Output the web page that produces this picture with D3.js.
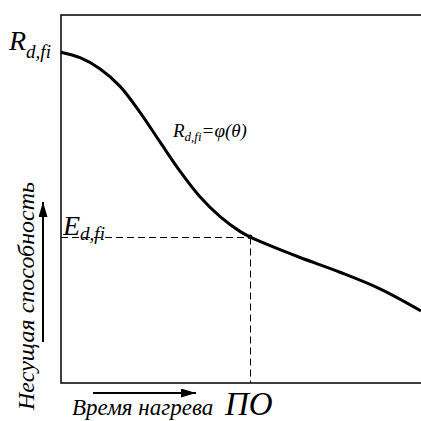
<!DOCTYPE html>
<html><head><meta charset="utf-8">
<script src="https://cdn.jsdelivr.net/npm/d3@7"></script>
</head><body style="margin:0">
<script>
// Heating time (relative units) and load-bearing capacity (relative units)
const timeValues = [0, 5.3, 10.8, 16.4, 21.9, 27.5, 33.1, 38.6, 44.2, 49.7, 52.5, 58.1, 66.4, 77.5, 88.6, 100];
const capacityValues = [89.9, 88.4, 85.4, 80.6, 73.6, 65.5, 57.5, 50.6, 45.2, 41.2, 39.7, 37.3, 34.1, 30.1, 25.6, 19.6];
const fireResistanceTime = 52.5;   // ПО
const designEffect = 39.7;         // E_d,fi
const yAxisLabel = "Несущая способность";
const xAxisLabel = "Время нагрева";
const poLabel = "ПО";

const FONT = "'Liberation Serif', 'Times New Roman', Tinos, 'DejaVu Serif', serif";
const svg = d3.select("body").append("svg").attr("width", 421).attr("height", 421);
const x = d3.scaleLinear().domain([0, 100]).range([61, 421]);
const y = d3.scaleLinear().domain([0, 100]).range([383, 15]);

function txt(px) {
  return svg.append("text").attr("font-family", "Liberation Serif")
    .style("font-family", FONT).style("font-style", "italic").attr("font-style", "italic")
    .attr("font-size", px);
}

// frame
svg.append("path").attr("d", `M${x(100)+2},${y(100)}H${x(0)}V${y(0)}H${x(100)+2}`)
  .attr("fill", "none").attr("stroke", "#000").attr("stroke-width", 1.5);

// dashed guides
const yE = Math.round(y(designEffect)) + 0.5, xP = Math.round(x(fireResistanceTime)) + 0.5;
svg.append("line").attr("x1", x(0)).attr("x2", xP).attr("y1", yE).attr("y2", yE)
  .attr("stroke", "#000").attr("stroke-width", 1).attr("stroke-dasharray", "7,4");
svg.append("line").attr("x1", xP).attr("x2", xP).attr("y1", yE).attr("y2", y(0))
  .attr("stroke", "#000").attr("stroke-width", 1).attr("stroke-dasharray", "7,4");

// curve
const pts = timeValues.map((t, i) => [t, capacityValues[i]]);
svg.append("path").datum(pts)
  .attr("d", d3.line().x(d => x(d[0])).y(d => y(d[1])).curve(d3.curveCatmullRom.alpha(0.5)))
  .attr("fill", "none").attr("stroke", "#000").attr("stroke-width", 3);
svg.append("circle").attr("cx", x(fireResistanceTime)).attr("cy", y(designEffect)).attr("r", 2.3);

// R_d,fi label at axis
const r1 = txt(28).attr("x", 9).attr("y", 50);
r1.append("tspan").text("R");
r1.append("tspan").attr("font-size", 19).attr("dy", 8).text("d,fi");

// E_d,fi label
const e1 = txt(28).attr("x", 63).attr("y", 235);
e1.append("tspan").text("E");
e1.append("tspan").attr("font-size", 19).attr("dy", 5).text("d,fi");

// curve label
const c1 = txt(19).attr("x", 173).attr("y", 137);
c1.append("tspan").text("R");
c1.append("tspan").attr("font-size", 13).attr("dy", 4).text("d,fi");
c1.append("tspan").attr("dy", -4).text("=φ(θ)");

// arrows
const defs = svg.append("defs");
defs.append("marker").attr("id", "ah").attr("viewBox", "0 0 10 10").attr("refX", 10).attr("refY", 5)
  .attr("markerWidth", 15).attr("markerHeight", 9).attr("markerUnits", "userSpaceOnUse")
  .attr("orient", "auto").attr("preserveAspectRatio", "none")
  .append("path").attr("d", "M0,0L10,5L0,10Z").attr("fill", "#000");
svg.append("line").attr("x1", 43).attr("x2", 43).attr("y1", 342).attr("y2", 202)
  .attr("stroke", "#000").attr("stroke-width", 2).attr("marker-end", "url(#ah)");
svg.append("line").attr("x1", 93).attr("x2", 196).attr("y1", 393).attr("y2", 393)
  .attr("stroke", "#000").attr("stroke-width", 2).attr("marker-end", "url(#ah)");

// axis labels
txt(24).attr("transform", "translate(34,296) rotate(-90)").attr("text-anchor", "middle").text(yAxisLabel);
txt(23).attr("x", 72).attr("y", 415).text(xAxisLabel);
txt(33).attr("x", 225).attr("y", 415).text(poLabel);
</script>
</body></html>
